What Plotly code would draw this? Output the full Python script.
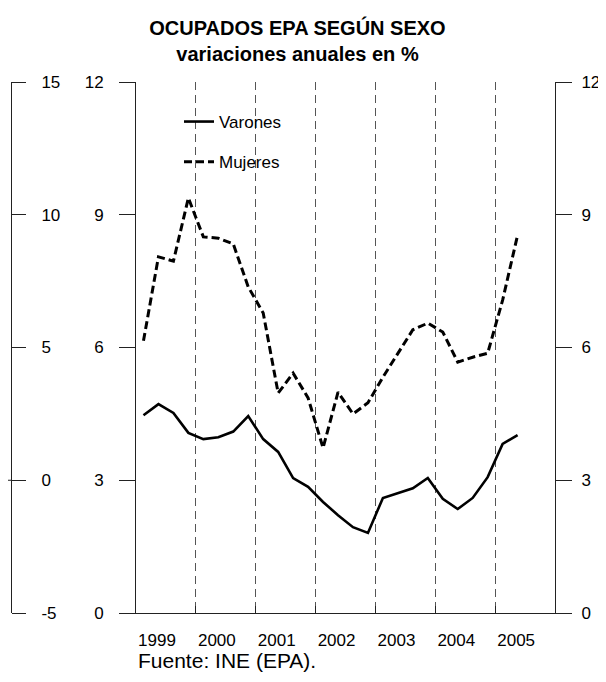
import plotly.graph_objects as go

# ---- data -------------------------------------------------------------
years = [1999, 2000, 2001, 2002, 2003, 2004, 2005]
year_labels = ["1999", "2000", "2001", "2002", "2003", "2004", "2005"]
quarter_year = [1999]*4 + [2000]*4 + [2001]*4 + [2002]*4 + [2003]*4 + [2004]*4 + [2005]*2
quarter_num = [1, 2, 3, 4]*6 + [1, 2]

varones = [4.47, 4.72, 4.52, 4.07, 3.93, 3.97, 4.10, 4.45, 3.93, 3.64, 3.05, 2.85,
           2.51, 2.21, 1.94, 1.81, 2.60, 2.71, 2.82, 3.05, 2.58, 2.35, 2.60, 3.07,
           3.82, 4.02]
mujeres = [6.15, 8.05, 7.95, 9.38, 8.50, 8.47, 8.34, 7.37, 6.78, 4.97, 5.42, 4.86,
           3.73, 4.99, 4.50, 4.75, 5.33, 5.87, 6.40, 6.55, 6.35, 5.67, 5.78, 5.87,
           7.07, 8.54]

main_ticks = [0, 3, 6, 9, 12]
aux_ticks = [-5, 0, 5, 10, 15]
aux_tick_labels = ["-5", "0", "5", "10", "15"]

title_l1 = "OCUPADOS EPA SEGÚN SEXO"
title_l2 = "variaciones anuales en %"
source = "Fuente: INE (EPA)."

# quarter mid-points on a continuous year axis
xq = [y + (q - 0.5) / 4 for y, q in zip(quarter_year, quarter_num)]

FONT = "Liberation Sans, Arial, sans-serif"
OFF = 8                      # page body margin
W, H = 606 - OFF, 682 - OFF  # figure size visible in the window
# plot area in window pixels: x 11..555, y 82..613
ML = 11 - OFF
MT = 82 - OFF
MR = W - (555 - OFF)
MB = H - (613 - OFF)
plot_w = W - ML - MR
plot_h = H - MT - MB
x_dom0 = (136 - 11) / plot_w


def px(xs):  # window x -> paper x
    return (xs - 11) / plot_w


def py(ys):  # window y -> paper y
    return (613 - ys) / plot_h


fig = go.Figure()
fig.add_trace(go.Scatter(x=xq, y=varones, name="Varones", mode="lines",
                         line=dict(color="black", width=2.6),
                         legendgroup="v"))
fig.add_trace(go.Scatter(x=xq, y=mujeres, name="Mujeres", mode="lines",
                         line=dict(color="black", width=3, dash="8px,4px"),
                         legendgroup="m"))

axis_col = "#222222"
fig.update_layout(
    template="none",
    width=W, height=H,
    margin=dict(l=ML, r=MR, t=MT, b=MB, autoexpand=False),
    paper_bgcolor="white", plot_bgcolor="white",
    font=dict(family=FONT, color="black", size=17),
    title=dict(text="<b>" + title_l1 + "<br>" + title_l2 + "</b>",
               x=(297.5 - OFF) / W, xref="container", xanchor="center",
               y=1 - 27 / H, yref="container", yanchor="top",
               font=dict(size=20, family=FONT, color="black")),
    showlegend=True,
    legend=dict(x=px(179), y=py(104),
                xref="paper", yref="paper",
                xanchor="left", yanchor="top",
                bgcolor="rgba(0,0,0,0)", borderwidth=0, itemwidth=30,
                tracegroupgap=15, traceorder="grouped",
                font=dict(size=17, family=FONT, color="black")),
    xaxis=dict(domain=[x_dom0, 1], range=[1999, 2006], automargin=False,
               tickvals=years, ticktext=year_labels,
               ticks="inside", ticklen=7, tickcolor=axis_col,
               ticklabelshift=21, ticklabelstandoff=12,
               showline=True, linecolor=axis_col, linewidth=1,
               showgrid=True, gridcolor="#555555", gridwidth=1,
               griddash="8px,5px", zeroline=False,
               tickfont=dict(size=17, color="black")),
    yaxis=dict(range=[0, 12], tickvals=main_ticks, anchor="x", automargin=False,
               ticks="outside", ticklen=16, tickcolor=axis_col,
               showline=True, linecolor=axis_col, linewidth=1,
               showgrid=False, zeroline=False, ticklabelstandoff=12,
               tickfont=dict(size=17, color="black")),
    yaxis2=dict(range=[0, 12], tickvals=main_ticks, anchor="x", automargin=False,
                overlaying="y", side="right",
                ticks="outside", ticklen=16, tickcolor=axis_col,
                showline=True, linecolor=axis_col, linewidth=1,
                showgrid=False, zeroline=False, ticklabelstandoff=6,
                tickfont=dict(size=17, color="black")),
    yaxis3=dict(range=[-5, 15], tickvals=aux_ticks, ticktext=aux_tick_labels,
                anchor="free", automargin=False,
                overlaying="y", side="right", position=0,
                ticks="outside", ticklen=14, tickcolor=axis_col,
                ticklabelstandoff=12,
                showline=True, linecolor=axis_col, linewidth=1,
                showgrid=False, zeroline=False,
                tickfont=dict(size=17, color="black")),
)

# invisible traces so the extra axes are drawn
fig.add_trace(go.Scatter(x=[None], y=[None], yaxis="y2", showlegend=False,
                         hoverinfo="skip"))
fig.add_trace(go.Scatter(x=[None], y=[None], yaxis="y3", showlegend=False,
                         hoverinfo="skip"))

# zero tick of the auxiliary axis crosses its line
fig.add_shape(type="line", xref="paper", yref="y3",
              x0=px(0), x1=0, y0=0, y1=0,
              line=dict(color=axis_col, width=1))

fig.add_annotation(text=source, xref="paper", yref="paper",
                   x=px(136), y=py(660),
                   xanchor="left", yanchor="middle", showarrow=False,
                   font=dict(size=21, family=FONT, color="black"))

fig.write_html("out.html")
